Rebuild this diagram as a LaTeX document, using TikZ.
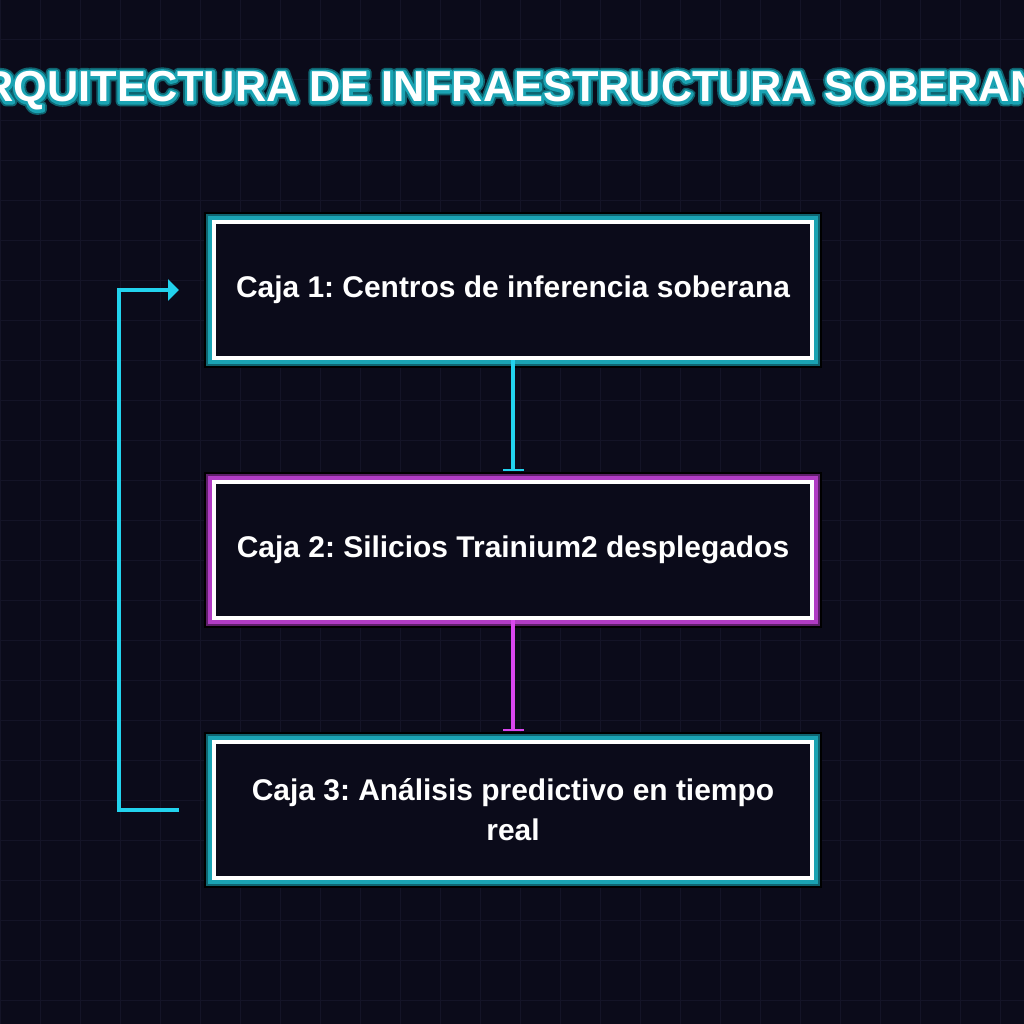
\documentclass[tikz,border=0pt]{standalone}
\usepackage{fontspec}
\setmainfont{Liberation Sans}
\newfontfamily\glowouter[FakeBold=20]{Liberation Sans Bold}
\newfontfamily\glowinner[FakeBold=12]{Liberation Sans Bold}
\usetikzlibrary{arrows.meta,calc}
\definecolor{bg}{HTML}{0B0B1A}
\definecolor{gridc}{HTML}{141427}
\definecolor{cyanc}{HTML}{22D3EE}
\definecolor{tealA}{HTML}{1AA3B3}
\definecolor{tealB}{HTML}{0F6470}
\definecolor{magc}{HTML}{D946EF}
\definecolor{magA}{HTML}{B13CC4}
\definecolor{magB}{HTML}{5E1F6A}
\frenchspacing
\tikzset{
  boxbase/.style={rectangle, draw=white, line width=3pt, fill=bg,
    minimum width=448.5pt, minimum height=102pt, inner sep=0pt,
    text=white, font=\bfseries\fontsize{22.45}{30}\selectfont, align=center},
  tealbox/.style={preaction={draw=black, line width=15pt},
    preaction={draw=tealB, line width=12pt},
    preaction={draw=tealA, line width=9pt}, boxbase},
  magbox/.style={preaction={draw=black, line width=15pt},
    preaction={draw=magB, line width=12pt},
    preaction={draw=magA, line width=9pt}, boxbase},
  conn/.style={line width=3pt},
  titlef/.style={anchor=base, inner sep=0pt, line join=round},
}
\begin{document}
\begin{tikzpicture}[x=0.75pt,y=-0.75pt]
\fill[bg] (0,0) rectangle (1024,1024);
\useasboundingbox (0,0) rectangle (1024,1024);
\foreach \g in {0,40,...,1000}{
  \draw[gridc, line width=0.75pt] (\g,0) -- (\g,1024);
  \draw[gridc, line width=0.75pt] (0,\g) -- (1024,\g);
}
\begin{scope}[line join=round]
\pgfsetroundjoin
\node[titlef, text=tealB, font=\glowouter\fontsize{32.5}{36}\selectfont] (tgo) at (512,102) {ARQUITECTURA DE INFRAESTRUCTURA SOBERANA};
\node[titlef, text=tealA, font=\glowinner\fontsize{32.5}{36}\selectfont] (tgi) at (512,102) {ARQUITECTURA DE INFRAESTRUCTURA SOBERANA};
\end{scope}
\node[titlef, text=white, font=\bfseries\fontsize{32.5}{36}\selectfont] (title) at (512,102) {ARQUITECTURA DE INFRAESTRUCTURA SOBERANA};

\node[tealbox] (b1) at (513,290) {Caja 1: Centros de inferencia soberana};
\node[magbox]  (b2) at (513,550) {Caja 2: Silicios Trainium2 desplegados};
\node[tealbox] (b3) at (513,810) {Caja 3: Análisis predictivo en tiempo\\real};

\draw[conn, cyanc, -{Bar[width=21*0.75pt, line width=1.5pt]}] (b1.south) -- ($(b2.north)+(0,-9)$);
\draw[conn, magc, -{Bar[width=21*0.75pt, line width=1.5pt]}] (b2.south) -- ($(b3.north)+(0,-9)$);
\coordinate (ls) at ($(b3.west)+(-33,0)$);
\coordinate (le) at ($(b1.west)+(-33,0)$);
\draw[conn, cyanc, -{Triangle[length=11*0.75pt, width=21*0.75pt]}] (ls) -- ++(-60,0) |- (le);
\end{tikzpicture}
\end{document}
